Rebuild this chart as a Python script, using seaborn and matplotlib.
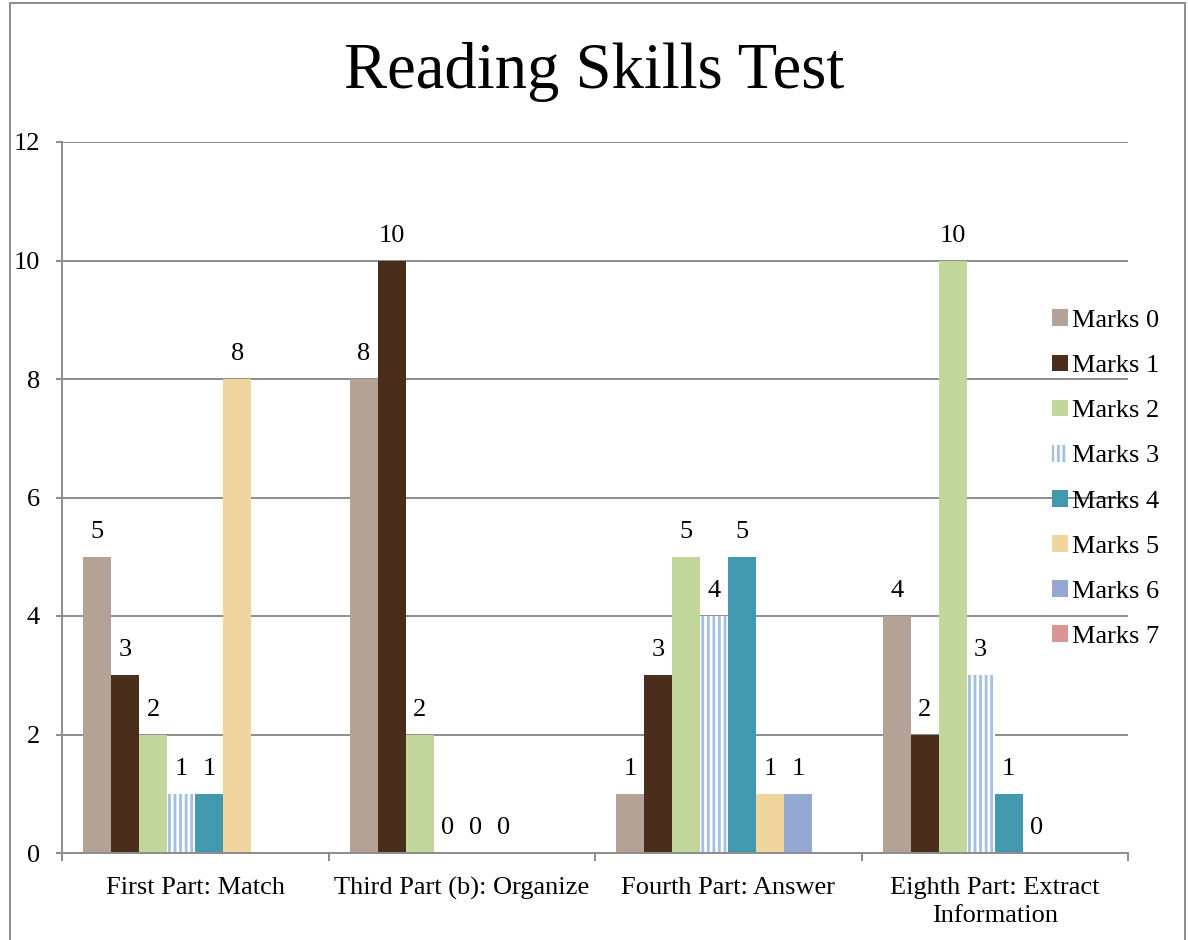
import numpy as np
import pandas as pd
import matplotlib
matplotlib.use("Agg")
import matplotlib.pyplot as plt
from matplotlib.patches import Patch, Rectangle
import seaborn as sns

categories = ["First Part: Match", "Third Part (b): Organize", "Fourth Part: Answer",
              "Eighth Part: Extract\nInformation"]
series = ["Marks 0", "Marks 1", "Marks 2", "Marks 3", "Marks 4", "Marks 5", "Marks 6", "Marks 7"]
marks0 = [5, 8, 1, 4]
marks1 = [3, 10, 3, 2]
marks2 = [2, 2, 5, 10]
marks3 = [1, 0, 4, 3]
marks4 = [1, 0, 5, 1]
marks5 = [8, 0, 1, 0]
marks6 = [np.nan, np.nan, 1, np.nan]
marks7 = [np.nan, np.nan, np.nan, np.nan]
colors = ["#b3a295", "#4a2d1a", "#c3d69b", "#ffffff", "#4198af", "#efd59e", "#95a8d2", "#d99694"]
stripe_color = "#a3bfe4"

values = [marks0, marks1, marks2, marks3, marks4, marks5, marks6, marks7]
rows = []
for s, vals in zip(series, values):
    for c, v in zip(categories, vals):
        rows.append({"category": c, "series": s, "value": v})
df = pd.DataFrame(rows)

sns.set_theme(style="white")
plt.rcParams["font.family"] = ["Liberation Serif", "DejaVu Serif"]
plt.rcParams["hatch.linewidth"] = 2.0
plt.rcParams["text.color"] = "black"

FS = 19

fig = plt.figure(figsize=(11.88, 9.40), dpi=100)
ax = fig.add_axes([62 / 1188, 1 - 853 / 940, (1128 - 62) / 1188, (853 - 142) / 940])

sns.barplot(data=df, x="category", y="value", hue="series", order=categories,
            hue_order=series, palette=colors, saturation=1, width=0.842,
            errorbar=None, linewidth=0, ax=ax, legend=False)

present = [s for s in series if df[df.series == s].value.notna().any()]
for cont, s in zip(ax.containers, present):
    if s == "Marks 3":
        for p in cont:
            p.set_facecolor("white")
            p.set_hatch("|||")
            p.set_edgecolor(stripe_color)
            p.set_linewidth(0)
    labels = ["%g" % p.get_height() if not np.isnan(p.get_height()) else "" for p in cont]
    ax.bar_label(cont, labels=labels, padding=10, fontsize=FS, color="black")

ax.set_ylim(0, 12)
ax.set_xlim(-0.5, 3.5)
ax.set_yticks(range(0, 13, 2))
ax.set_xlabel("")
ax.set_ylabel("")
ax.grid(axis="y", color="#8c8c8c", linewidth=1.4)
ax.set_axisbelow(True)
for side in ["top", "right"]:
    ax.spines[side].set_visible(False)
for side in ["left", "bottom"]:
    ax.spines[side].set_color("#8c8c8c")
    ax.spines[side].set_linewidth(1.4)

ax.set_xticks(np.arange(-0.5, 4, 1), minor=True)
ax.tick_params(axis="x", which="major", length=0, pad=17, labelsize=FS, labelcolor="black")
ax.tick_params(axis="x", which="minor", length=6, width=1.4, color="#8c8c8c", bottom=True)
ax.tick_params(axis="y", which="major", length=4, width=1.4, color="#8c8c8c", left=True,
               pad=12, labelsize=FS, labelcolor="black")
for t in ax.get_xticklabels():
    t.set_linespacing(1.4)

handles = []
for s, c in zip(series, colors):
    if s == "Marks 3":
        handles.append(Patch(facecolor="white", edgecolor=stripe_color, hatch="|||", linewidth=0, label=s))
    else:
        handles.append(Patch(facecolor=c, linewidth=0, label=s))
leg = ax.legend(handles=handles, loc="center left", bbox_to_anchor=(0.9165, 0.5265),
                frameon=False, fontsize=FS, handlelength=0.6, handleheight=0.6,
                handletextpad=0.15, labelspacing=0.85, borderpad=0)
for t in leg.get_texts():
    t.set_color("black")

fig.text(0.5, 1 - 72 / 940, "Reading Skills Test", ha="center", va="center", fontsize=46.5,
         color="black")

fig.patches.append(Rectangle((10 / 1188, -0.05), (1185 - 10) / 1188, 1.05 - 3 / 940,
                             transform=fig.transFigure, fill=False, edgecolor="#8c8c8c",
                             linewidth=1.4))

fig.savefig("out.png", dpi=100)
